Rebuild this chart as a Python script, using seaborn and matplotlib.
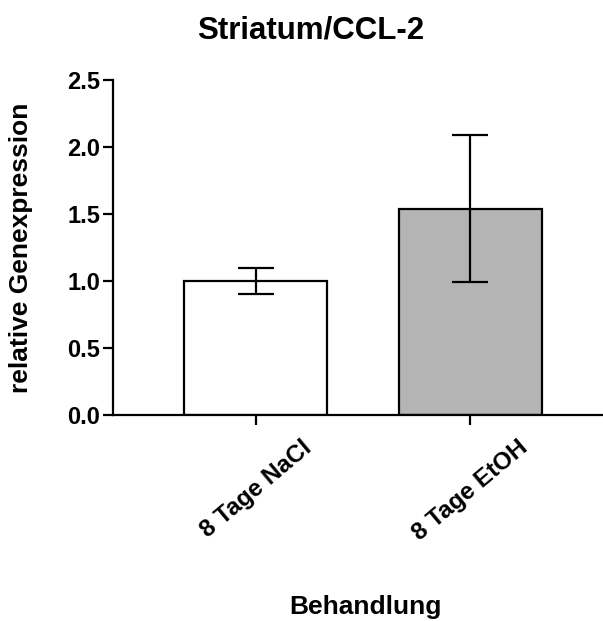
import matplotlib
matplotlib.use("Agg")
import matplotlib.pyplot as plt
import seaborn as sns
import pandas as pd

categories = ["8 Tage NaCl", "8 Tage EtOH"]
means = [1.00, 1.54]
errors = [0.10, 0.55]
colors = ["#FFFFFF", "#B4B4B4"]
yticks = [0.0, 0.5, 1.0, 1.5, 2.0, 2.5]

sns.set_theme(style="ticks")
plt.rcParams["font.family"] = ["Liberation Sans", "DejaVu Sans"]
plt.rcParams["font.weight"] = "bold"

df = pd.DataFrame({"Behandlung": categories, "value": means})

fig = plt.figure(figsize=(6.03, 6.21), dpi=100)
ax = fig.add_axes([113 / 603, 1 - 415 / 621, (603 - 113) / 603, 335 / 621])

sns.barplot(data=df, x="Behandlung", y="value", hue="Behandlung",
            palette=colors, edgecolor="black", linewidth=1.6,
            width=0.668, errorbar=None, legend=False, ax=ax)

ax.errorbar(range(len(categories)), means, yerr=errors, fmt="none",
            ecolor="black", elinewidth=1.6, capsize=13.3, capthick=1.6)

ax.set_xlim(-0.668, 1.621)
ax.set_ylim(0, 2.5)
ax.set_yticks(yticks)
ax.set_yticklabels([f"{t:.1f}" for t in yticks])

sns.despine(ax=ax)
for s in ["left", "bottom"]:
    ax.spines[s].set_linewidth(1.6)
    ax.spines[s].set_color("black")

ax.tick_params(axis="both", direction="out", length=7, width=1.6, color="black",
               labelsize=17, labelcolor="black")
ax.tick_params(axis="y", pad=2)
ax.tick_params(axis="x", pad=8, labelsize=17.5)
for lab in ax.get_xticklabels():
    lab.set_rotation(40)
    lab.set_ha("center")
    lab.set_va("top")
    lab.set_fontweight("bold")
for lab in ax.get_yticklabels():
    lab.set_fontweight("bold")

ax.set_xlabel("Behandlung", fontsize=19, fontweight="bold", color="black")
ax.xaxis.set_label_coords(0.516, -0.537)
ax.set_ylabel("relative Genexpression", fontsize=19, fontweight="bold", color="black")
ax.yaxis.set_label_coords(-0.163, 0.5)

ax.set_title("Striatum/CCL-2", fontsize=22.5, fontweight="bold", color="black",
             x=0.404, pad=30)

fig.savefig("out.png", dpi=100)
